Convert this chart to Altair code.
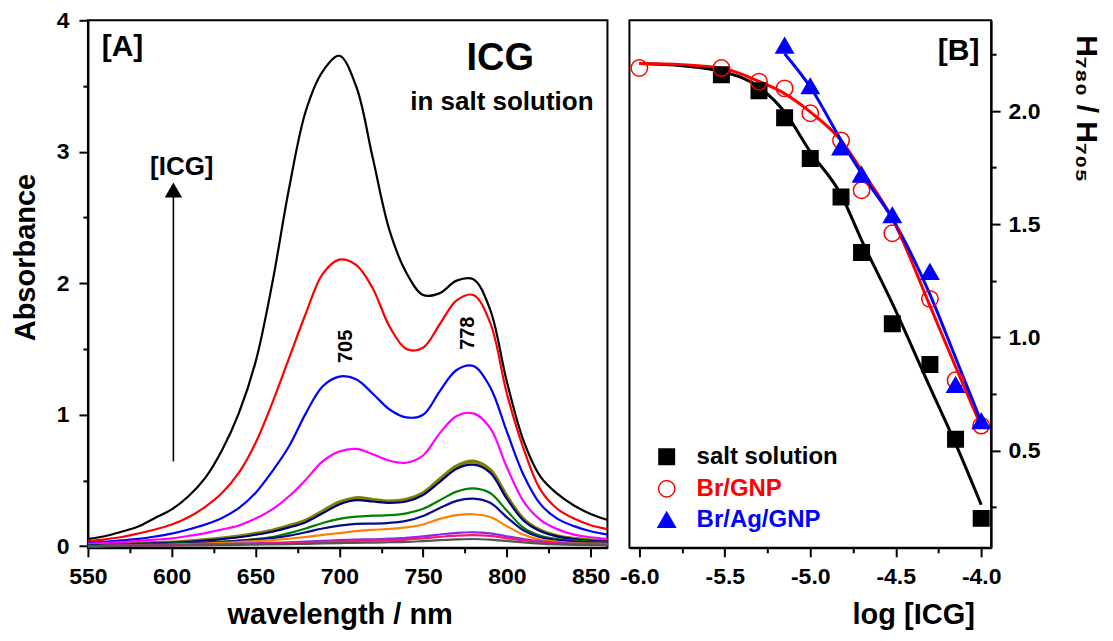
import altair as alt
import pandas as pd

FONT = "Liberation Sans"

# ---------------- Panel A : absorption spectra ----------------
WAVELENGTH = list(range(550, 861, 10))

CURVE_NAMES = ["black", "red", "blue", "magenta", "olive", "navy", "green",
               "darkblue", "orange", "violet", "pink", "gray"]
CURVE_COLORS = ["#000000", "#ff0000", "#0000ff", "#ff00ff", "#808000", "#000080",
                "#008000", "#0a0a8c", "#ff8000", "#8a2be2", "#f0197d", "#555555"]

ABS_BLACK = [0.056, 0.076, 0.11, 0.15, 0.215, 0.28, 0.38, 0.52, 0.73, 1.01, 1.40, 2.00,
             2.72, 3.31, 3.61, 3.73, 3.50, 2.95, 2.40, 2.08, 1.91, 1.925, 2.02, 2.03,
             1.80, 1.25, 0.80, 0.53, 0.40, 0.31, 0.245, 0.20]
ABS_RED = [0.038, 0.052, 0.07, 0.097, 0.127, 0.165, 0.22, 0.30, 0.405, 0.557, 0.785, 1.09,
           1.43, 1.77, 2.07, 2.18, 2.14, 1.96, 1.67, 1.50, 1.51, 1.69, 1.87, 1.91,
           1.70, 1.16, 0.74, 0.43, 0.285, 0.21, 0.16, 0.13]
ABS_BLUE = [0.025, 0.033, 0.044, 0.056, 0.074, 0.096, 0.127, 0.165, 0.215, 0.29, 0.405, 0.57,
            0.76, 1.01, 1.215, 1.29, 1.27, 1.16, 1.04, 0.98, 1.00, 1.18, 1.34, 1.37,
            1.21, 0.87, 0.54, 0.32, 0.21, 0.153, 0.114, 0.089]
ABS_MAGENTA = [0.018, 0.024, 0.031, 0.04, 0.05, 0.06, 0.078, 0.10, 0.127, 0.157, 0.21, 0.28,
               0.38, 0.506, 0.646, 0.72, 0.74, 0.70, 0.65, 0.635, 0.69, 0.86, 0.99, 1.01,
               0.90, 0.60, 0.34, 0.20, 0.13, 0.088, 0.068, 0.056]
ABS_OLIVE = [0.008, 0.012, 0.016, 0.021, 0.026, 0.03, 0.038, 0.048, 0.06, 0.076, 0.096, 0.12,
             0.155, 0.197, 0.266, 0.334, 0.367, 0.354, 0.342, 0.355, 0.405, 0.51, 0.61, 0.645,
             0.58, 0.38, 0.205, 0.12, 0.078, 0.058, 0.046, 0.038]
ABS_NAVY = [0.006, 0.009, 0.013, 0.018, 0.022, 0.027, 0.034, 0.043, 0.054, 0.068, 0.087, 0.11,
            0.143, 0.183, 0.25, 0.318, 0.35, 0.34, 0.33, 0.34, 0.39, 0.49, 0.59, 0.62,
            0.56, 0.36, 0.195, 0.115, 0.075, 0.055, 0.043, 0.035]
ABS_GREEN = [0.005, 0.007, 0.009, 0.012, 0.016, 0.02, 0.025, 0.03, 0.036, 0.043, 0.055, 0.07,
             0.10, 0.135, 0.177, 0.208, 0.225, 0.232, 0.236, 0.25, 0.285, 0.35, 0.415, 0.44,
             0.405, 0.27, 0.14, 0.08, 0.055, 0.043, 0.035, 0.03]
ABS_DARKBLUE = [0.003, 0.005, 0.007, 0.009, 0.012, 0.016, 0.021, 0.026, 0.032, 0.04, 0.05, 0.062,
                0.08, 0.106, 0.135, 0.157, 0.17, 0.172, 0.178, 0.193, 0.23, 0.29, 0.345, 0.362,
                0.33, 0.22, 0.12, 0.068, 0.048, 0.036, 0.03, 0.025]
ABS_ORANGE = [0.0, 0.002, 0.004, 0.006, 0.009, 0.012, 0.016, 0.02, 0.026, 0.032, 0.038, 0.046,
              0.057, 0.07, 0.086, 0.10, 0.115, 0.124, 0.132, 0.143, 0.165, 0.208, 0.236, 0.243,
              0.222, 0.152, 0.087, 0.05, 0.034, 0.024, 0.02, 0.018]
ABS_VIOLET = [0.0, 0.002, 0.004, 0.006, 0.008, 0.01, 0.012, 0.014, 0.017, 0.019, 0.022, 0.026,
              0.03, 0.035, 0.04, 0.046, 0.05, 0.053, 0.057, 0.063, 0.075, 0.089, 0.102, 0.106,
              0.098, 0.076, 0.055, 0.038, 0.028, 0.02, 0.016, 0.013]
ABS_PINK = [0.0, 0.001, 0.003, 0.005, 0.006, 0.008, 0.01, 0.011, 0.013, 0.015, 0.018, 0.021,
            0.024, 0.028, 0.032, 0.037, 0.04, 0.043, 0.046, 0.05, 0.06, 0.071, 0.081, 0.085,
            0.078, 0.061, 0.044, 0.03, 0.022, 0.016, 0.013, 0.01]
ABS_GRAY = [0.0, 0.001, 0.002, 0.003, 0.004, 0.005, 0.006, 0.007, 0.008, 0.01, 0.012, 0.014,
            0.016, 0.018, 0.021, 0.024, 0.026, 0.028, 0.03, 0.033, 0.039, 0.046, 0.052, 0.055,
            0.05, 0.04, 0.029, 0.02, 0.014, 0.01, 0.008, 0.007]

SPECTRA = [ABS_BLACK, ABS_RED, ABS_BLUE, ABS_MAGENTA, ABS_OLIVE, ABS_NAVY, ABS_GREEN,
           ABS_DARKBLUE, ABS_ORANGE, ABS_VIOLET, ABS_PINK, ABS_GRAY]

A_X_TICKS = [550, 575, 600, 625, 650, 675, 700, 725, 750, 775, 800, 825, 850]
A_Y_TICKS = [0, 0.5, 1, 1.5, 2, 2.5, 3, 3.5, 4]

# arrow "[ICG]" (wavelength, absorbance from, absorbance to)
ARROW = {"wl": 601, "from": 0.645, "to": 2.66, "head": 2.71}

# text annotations in panel A
TOP_TEXT = ["ICG", "in salt solution"]
TOP_TEXT_WL = [796.0, 797.0]
TOP_TEXT_ABS = [3.625, 3.315]
TOP_TEXT_SIZE = [38, 26]

MID_TEXT = ["[A]", "[ICG]"]
MID_TEXT_WL = [570.6, 606.0]
MID_TEXT_ABS = [3.80, 2.887]
MID_TEXT_SIZE = [30, 26]

PEAK_TEXT = ["705", "778"]
PEAK_TEXT_WL = [704.0, 776.6]
PEAK_TEXT_ABS = [1.52, 1.62]

# ---------------- Panel B : ratio vs log[ICG] ----------------
SERIES = ["salt solution", "Br/GNP", "Br/Ag/GNP"]
SERIES_COLORS = ["#000000", "#ff0000", "#0000ff"]
SERIES_FILL = ["#000000", "transparent", "#0000ff"]
SERIES_SHAPES = ["square", "circle", "triangle-up"]
SERIES_SIZES = [240, 300, 430]

LOGC_SALT = [-5.52, -5.30, -5.15, -5.00, -4.82, -4.70, -4.52, -4.30, -4.15, -4.00]
RATIO_SALT = [2.16, 2.09, 1.97, 1.79, 1.62, 1.375, 1.06, 0.88, 0.55, 0.20]
LOGC_BRGNP = [-6.00, -5.52, -5.30, -5.15, -5.00, -4.82, -4.70, -4.52, -4.30, -4.15, -4.00]
RATIO_BRGNP = [2.19, 2.19, 2.13, 2.10, 1.99, 1.87, 1.65, 1.46, 1.17, 0.81, 0.61]
LOGC_BRAG = [-5.15, -5.00, -4.82, -4.70, -4.52, -4.30, -4.15, -4.00]
RATIO_BRAG = [2.29, 2.11, 1.84, 1.72, 1.54, 1.29, 0.79, 0.63]

FIT_X_SALT = [-6.0, -5.75, -5.52, -5.30, -5.15, -5.00, -4.82, -4.70, -4.52, -4.30, -4.15, -4.00]
FIT_Y_SALT = [2.21, 2.20, 2.175, 2.106, 1.996, 1.82, 1.63, 1.43, 1.15, 0.78, 0.53, 0.26]
FIT_X_BRGNP = [-6.0, -5.75, -5.52, -5.30, -5.15, -5.00, -4.82, -4.70, -4.52, -4.30, -4.15, -4.00]
FIT_Y_BRGNP = [2.21, 2.205, 2.19, 2.131, 2.077, 1.996, 1.87, 1.738, 1.525, 1.14, 0.87, 0.607]
FIT_X_BRAG = [-5.15, -5.00, -4.82, -4.70, -4.52, -4.30, -4.15, -4.00]
FIT_Y_BRAG = [2.253, 2.106, 1.871, 1.724, 1.525, 1.19, 0.91, 0.628]

B_X_TICKS = [-6.0, -5.75, -5.5, -5.25, -5.0, -4.75, -4.5, -4.25, -4.0]
B_Y_TICKS = [0.25, 0.5, 0.75, 1.0, 1.25, 1.5, 1.75, 2.0, 2.25]

B_LABEL = ["[B]"]
B_LABEL_X = [-4.132]
B_LABEL_Y = [2.263]

# legend of panel B (drawn in data units inside the panel)
LEGEND_SYMBOL_X = -5.84
LEGEND_TEXT_X = -5.665
LEGEND_ROW_Y = [0.472, 0.331, 0.194]

# ---------------- data frames ----------------
spec_rows = []
for name, vals in zip(CURVE_NAMES, SPECTRA):
    for w, a in zip(WAVELENGTH, vals):
        spec_rows.append({"wl": w, "absorbance": a, "curve": name})
spec_df = pd.DataFrame(spec_rows)

arrow_df = pd.DataFrame([{"wl": ARROW["wl"], "absorbance": ARROW["from"], "top": ARROW["to"]}])
head_df = pd.DataFrame([{"wl": ARROW["wl"], "absorbance": ARROW["head"]}])
top_df = pd.DataFrame({"wl": TOP_TEXT_WL, "absorbance": TOP_TEXT_ABS, "label": TOP_TEXT, "fs": TOP_TEXT_SIZE})
mid_df = pd.DataFrame({"wl": MID_TEXT_WL, "absorbance": MID_TEXT_ABS, "label": MID_TEXT, "fs": MID_TEXT_SIZE})
peak_df = pd.DataFrame({"wl": PEAK_TEXT_WL, "absorbance": PEAK_TEXT_ABS, "label": PEAK_TEXT})

pt_rows = []
for s, xs, ys in zip(SERIES, [LOGC_SALT, LOGC_BRGNP, LOGC_BRAG], [RATIO_SALT, RATIO_BRGNP, RATIO_BRAG]):
    for xv, yv in zip(xs, ys):
        pt_rows.append({"logc": xv, "ratio": yv, "series": s})
pts_df = pd.DataFrame(pt_rows)

fit_dfs = []
for s, xs, ys in zip(SERIES, [FIT_X_SALT, FIT_X_BRGNP, FIT_X_BRAG], [FIT_Y_SALT, FIT_Y_BRGNP, FIT_Y_BRAG]):
    fit_dfs.append(pd.DataFrame({"logc": xs, "ratio": ys, "series": s}))

blabel_df = pd.DataFrame({"logc": B_LABEL_X, "ratio": B_LABEL_Y, "label": B_LABEL})
leg_sym_df = pd.DataFrame({"logc": [LEGEND_SYMBOL_X] * 3, "ratio": LEGEND_ROW_Y, "series": SERIES})
leg_txt_df = pd.DataFrame({"logc": [LEGEND_TEXT_X] * 3, "ratio": LEGEND_ROW_Y, "series": SERIES})

# ---------------- panel A ----------------
xA = alt.X(
    "wl:Q",
    scale=alt.Scale(domain=[550, 860], nice=False, zero=False),
    axis=alt.Axis(
        values=A_X_TICKS, format="d", title="wavelength / nm",
        labelExpr="datum.value % 50 == 0 ? datum.label : ''",
        tickSize={"condition": {"test": "datum.value % 50 != 0", "value": 5}, "value": 9},
        labelPadding=9, titleX=252, titleY=76, titleAlign="center", titleBaseline="alphabetic",
    ),
)
yA = alt.Y(
    "absorbance:Q",
    scale=alt.Scale(domain=[-0.012, 4.0], nice=False, zero=False),
    axis=alt.Axis(
        values=A_Y_TICKS, title="Absorbance",
        labelExpr="datum.value % 1 == 0 ? format(datum.value, 'd') : ''",
        tickSize={"condition": {"test": "datum.value % 1 != 0", "value": 5}, "value": 9},
        labelPadding=10, titleAngle=270, titleX=-53, titleY=237, titleAlign="center",
        titleBaseline="alphabetic",
    ),
)

olive_layer = alt.Chart(spec_df).transform_filter("datum.curve == 'olive'").mark_line(
    strokeWidth=3.6, color="#808000", interpolate="catmull-rom"
).encode(x=xA, y=yA)

lines_layer = alt.Chart(spec_df).transform_filter("datum.curve != 'olive'").mark_line(
    strokeWidth=2.2, interpolate="catmull-rom"
).encode(
    x=xA, y=yA,
    color=alt.Color("curve:N", scale=alt.Scale(domain=CURVE_NAMES, range=CURVE_COLORS), legend=None),
)

arrow_layer = alt.Chart(arrow_df).mark_rule(color="black", strokeWidth=1.6).encode(
    x=xA, y=yA, y2="top:Q"
)
head_layer = alt.Chart(head_df).mark_point(
    shape="triangle-up", size=300, filled=True, color="black", opacity=1
).encode(x=xA, y=yA)

top_text = alt.Chart(top_df).mark_text(
    font=FONT, fontWeight="bold", color="black", align="center", baseline="alphabetic"
).encode(x=xA, y=yA, text="label:N", size=alt.Size("fs:Q", scale=None))

mid_text = alt.Chart(mid_df).mark_text(
    font=FONT, fontWeight="bold", color="black", align="center", baseline="middle"
).encode(x=xA, y=yA, text="label:N", size=alt.Size("fs:Q", scale=None))

peak_text = alt.Chart(peak_df).mark_text(
    font=FONT, fontWeight="bold", fontSize=20, color="black", align="center",
    baseline="middle", angle=270
).encode(x=xA, y=yA, text="label:N")

panel_a = alt.layer(
    olive_layer, lines_layer, arrow_layer, head_layer, top_text, mid_text, peak_text
).properties(width=520, height=528)

# ---------------- panel B ----------------
half_test = "abs(datum.value * 2 - round(datum.value * 2)) < 0.01"
xB = alt.X(
    "logc:Q",
    scale=alt.Scale(domain=[-6.058, -3.942], nice=False, zero=False),
    axis=alt.Axis(
        values=B_X_TICKS, title="log [ICG]",
        labelExpr=f"{half_test} ? (datum.value < 0 ? '-' : '') + format(abs(datum.value), '.1f') : ''",
        tickSize={"condition": {"test": f"!({half_test})", "value": 5}, "value": 9},
        labelPadding=9, titleX=284, titleY=76, titleAlign="center", titleBaseline="alphabetic",
    ),
)
yB = alt.Y(
    "ratio:Q",
    scale=alt.Scale(domain=[0.07, 2.401], nice=False, zero=False),
    axis=alt.Axis(
        orient="right", values=B_Y_TICKS, title="H\u2087\u2088\u2080 / H\u2087\u2080\u2085",
        labelExpr=f"{half_test} ? format(datum.value, '.1f') : ''",
        tickSize={"condition": {"test": f"!({half_test})", "value": 5}, "value": 9},
        labelPadding=8, titleAngle=90, titleX=85, titleY=88, titleAlign="center",
        titleBaseline="alphabetic", titleFontSize=30,
    ),
)

shape_enc = alt.Shape("series:N", scale=alt.Scale(domain=SERIES, range=SERIES_SHAPES), legend=None)
fill_enc = alt.Fill("series:N", scale=alt.Scale(domain=SERIES, range=SERIES_FILL), legend=None)
stroke_enc = alt.Stroke("series:N", scale=alt.Scale(domain=SERIES, range=SERIES_COLORS), legend=None)
size_enc = alt.Size("series:N", scale=alt.Scale(domain=SERIES, range=SERIES_SIZES), legend=None)

fit_layers = []
for s, c, df in zip(SERIES, SERIES_COLORS, fit_dfs):
    fit_layers.append(
        alt.Chart(df).mark_line(color=c, strokeWidth=3, interpolate="monotone").encode(x=xB, y=yB)
    )

points_layer = alt.Chart(pts_df).mark_point(filled=True, strokeWidth=1.5, opacity=1).encode(
    x=xB, y=yB, shape=shape_enc, fill=fill_enc, stroke=stroke_enc, size=size_enc,
)

leg_sym_layer = alt.Chart(leg_sym_df).mark_point(filled=True, strokeWidth=1.5, opacity=1).encode(
    x=xB, y=yB, shape=shape_enc, fill=fill_enc, stroke=stroke_enc, size=size_enc,
)
leg_txt_layer = alt.Chart(leg_txt_df).mark_text(
    font=FONT, fontWeight="bold", fontSize=24, align="left", baseline="middle"
).encode(
    x=xB, y=yB, text="series:N",
    color=alt.Color("series:N", scale=alt.Scale(domain=SERIES, range=SERIES_COLORS), legend=None),
)

b_text = alt.Chart(blabel_df).mark_text(
    font=FONT, fontWeight="bold", fontSize=30, color="black", align="center", baseline="middle"
).encode(x=xB, y=yB, text="label:N")

panel_b = alt.layer(
    *fit_layers, points_layer, leg_sym_layer, leg_txt_layer, b_text
).properties(width=362, height=528)

chart = alt.hconcat(panel_a, panel_b, spacing=2).properties(
    padding={"left": 3, "top": 0, "right": 4, "bottom": 0}, background="white"
).configure_view(
    stroke="black", strokeWidth=2
).configure_axis(
    grid=False, domainColor="black", domainWidth=2, tickColor="black", tickWidth=2,
    labelFont=FONT, labelFontSize=23, labelFontWeight="bold", labelColor="black",
    titleFont=FONT, titleFontSize=29, titleFontWeight="bold", titleColor="black",
    labelFlush=False, labelOverlap=False,
)

chart.save("out.html", embed_options={"renderer": "svg", "actions": False})
